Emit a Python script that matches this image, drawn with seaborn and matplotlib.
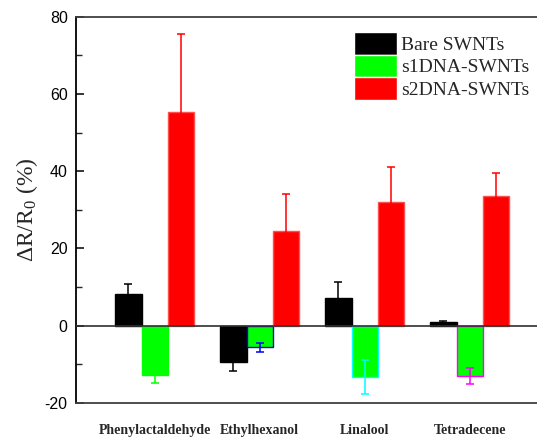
import matplotlib.pyplot as plt
import pandas as pd
import seaborn as sns

# values (%)
analytes = ["Phenylactaldehyde", "Ethylhexanol", "Linalool", "Tetradecene"]
samples = ["Bare SWNTs", "s1DNA-SWNTs", "s2DNA-SWNTs"]
bare = [8.3, -9.3, 7.2, 1.0]
s1dna = [-12.7, -5.6, -13.4, -13.1]
s2dna = [55.2, 24.4, 31.9, 33.5]
bare_err = [2.5, 2.3, 4.0, 0.3]
s1dna_err = [2.0, 1.1, 4.4, 2.1]
s2dna_err = [20.3, 9.7, 9.1, 6.1]

df = pd.DataFrame({
    "analyte": analytes * 3,
    "sample": [s for s in samples for _ in analytes],
    "value": bare + s1dna + s2dna,
})
errs = [bare_err, s1dna_err, s2dna_err]

sns.set_style("ticks")
plt.rcParams["font.family"] = ["Liberation Serif", "DejaVu Serif"]
plt.rcParams["mathtext.fontset"] = "custom"
plt.rcParams["mathtext.rm"] = "Liberation Serif"
plt.rcParams["axes.unicode_minus"] = False

fig = plt.figure(figsize=(5.37, 4.41), dpi=100)
ax = fig.add_axes([0.1415, 0.0862, 0.88, 0.876])

palette = ["black", "#00ff00", "red"]
sns.barplot(data=df, x="analyte", y="value", hue="sample", palette=palette,
            width=0.755, errorbar=None, saturation=1, ax=ax)

# edge and error bar colours of each bar
err_colors = [["black"] * 4,
              ["#00ff00", "#0000ff", "#00ffff", "#ff00ff"],
              ["red"] * 4]
edge_colors = [["black"] * 4,
               ["#00ff00", "#0000ff", "#00ffff", "#ff00ff"],
               ["#ff5050"] * 4]

bar_groups = list(ax.containers)
for i, cont in enumerate(bar_groups):
    for j, bar in enumerate(cont):
        bar.set_edgecolor(edge_colors[i][j])
        bar.set_linewidth(1.0)
        xc = bar.get_x() + bar.get_width() / 2
        ax.errorbar(xc, bar.get_height(), yerr=errs[i][j], color=err_colors[i][j],
                    capsize=3, elinewidth=1.1, capthick=1.1, zorder=2)

ax.axhline(0, color="#303030", lw=1.2, zorder=3)

ax.set_xlim(-0.75, 3.75)
ax.set_ylim(-20, 80)
ax.set_yticks(range(-20, 81, 20))
ax.set_yticks(range(-10, 81, 20), minor=True)
ax.tick_params(axis="y", which="major", direction="in", length=6, width=1.1,
               pad=6, labelsize=11.5, colors="black")
ax.tick_params(axis="y", which="minor", direction="in", length=4, width=1.0)
ax.tick_params(axis="x", length=0, pad=15)
for lab in ax.get_yticklabels():
    lab.set_fontfamily("Liberation Sans")
for lab in ax.get_xticklabels():
    lab.set_fontweight("bold")
    lab.set_fontsize(10)

for sp in ["left", "bottom", "top", "right"]:
    ax.spines[sp].set_color("#404040")
    ax.spines[sp].set_linewidth(1.3)
ax.spines["left"].set_color("black")

ax.set_xlabel("")
ax.set_ylabel(r"$\mathrm{\Delta R/R_0}$ (%)", fontsize=17, labelpad=3)

handles, labels = ax.get_legend_handles_labels()
ax.legend(handles, labels, loc="upper left", bbox_to_anchor=(0.555, 1.0),
          frameon=False, fontsize=14, handlelength=2.2, handleheight=1.4,
          labelspacing=0.0, handletextpad=0.25, borderpad=0.3)

fig.savefig("out.png", dpi=100)
